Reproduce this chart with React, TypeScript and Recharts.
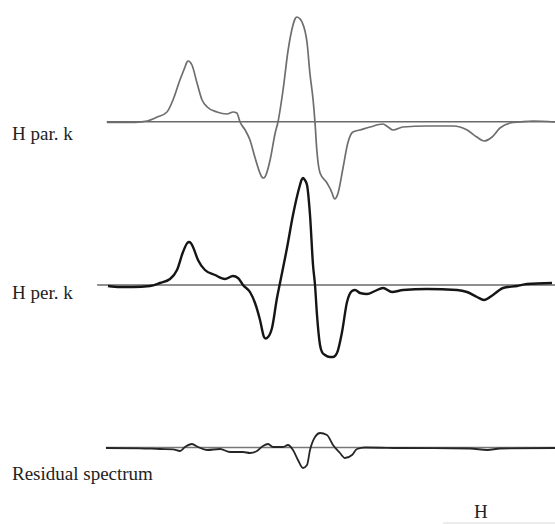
import React from "react";
import { LineChart, Line, XAxis, YAxis, ReferenceLine } from "recharts";

// Magnetic field H (arbitrary units, 0..100)
const parField = [3.1, 6.0, 9.2, 11.8, 14.0, 16.1, 17.4, 18.9, 20.0, 20.32, 20.65, 21.08, 21.5, 22.6, 23.7, 24.8, 26.9, 29.1, 30.4, 31.2, 31.9, 33.0, 34.05, 35.1, 36.2, 36.54, 36.9, 37.19, 37.5, 38.4, 39.5, 40.1, 41.2, 42.3, 43.35, 43.78, 44.2, 44.76, 45.3, 46.4, 47.0, 47.7, 48.1, 48.5, 49.2, 50.7, 51.8, 52.1, 52.4, 52.75, 53.1, 54.2, 55.2, 56.3, 57.8, 60.0, 62.8, 63.9, 65.0, 67.1, 72.3, 78.0, 81.0, 83.1, 84.65, 86.4, 88.1, 90.3, 92.4, 95.2, 100];
// H parallel k spectrum (derivative signal, a.u.)
const parSignal = [-0.06, -0.08, -0.06, 0.07, 0.47, 0.97, 2.17, 4.17, 5.47, 5.87, 6.07, 5.97, 5.67, 3.87, 2.17, 1.47, 0.97, 0.77, 0.97, 0.87, -0.03, -0.83, -1.83, -3.53, -5.13, -5.48, -5.63, -5.58, -5.33, -3.83, -1.13, -0.03, 3.17, 7.17, 9.67, 10.27, 10.47, 10.32, 9.97, 7.87, 4.87, 2.17, -0.03, -2.83, -5.13, -6.13, -7.13, -7.55, -7.73, -7.55, -7.13, -4.53, -2.13, -1.03, -0.83, -0.53, -0.23, -0.53, -0.83, -0.53, -0.43, -0.43, -0.83, -1.53, -1.93, -1.53, -0.63, -0.13, -0.03, 0.07, -0.03];

const perField = [3.35, 5.95, 8.76, 12.43, 14.59, 16.76, 18.27, 19.57, 20.5, 20.86, 21.25, 21.73, 22.81, 24.32, 26.49, 28.65, 30.38, 31.46, 32.54, 34.05, 35.14, 36.22, 37.08, 37.4, 37.73, 38.81, 39.89, 40.54, 42.05, 43.35, 44.86, 45.19, 45.51, 45.84, 46.38, 47.03, 47.68, 48.11, 48.54, 49.19, 49.62, 50.27, 51.35, 52.0, 52.86, 53.95, 55.03, 56.11, 56.76, 57.84, 59.35, 61.08, 62.81, 64.76, 67.14, 72.32, 78.81, 80.97, 83.14, 84.65, 86.59, 88.76, 91.78, 93.95, 99.35];
// H perpendicular k spectrum
const perSignal = [-0.1, -0.2, -0.2, -0.1, 0.2, 0.6, 1.5, 3.3, 4.2, 4.3, 4.2, 3.8, 2.5, 1.5, 1.0, 0.6, 0.9, 0.7, 0, -0.7, -1.8, -3.5, -5.2, -5.35, -5.3, -4.3, -1.3, 0.2, 3.7, 7.0, 10.0, 10.5, 10.7, 10.55, 10.0, 7.0, 2.0, 0, -3.0, -6.0, -6.7, -7.0, -7.2, -7.2, -6.8, -4.7, -1.7, -0.6, -0.5, -0.8, -0.9, -0.6, -0.3, -0.7, -0.5, -0.4, -0.5, -0.7, -1.2, -1.5, -1.0, -0.3, -0.1, 0.1, 0.2];

const resField = [2.92, 10.27, 14.59, 17.41, 18.92, 20.0, 21.51, 22.81, 24.76, 27.57, 29.73, 32.54, 34.05, 35.57, 36.86, 37.95, 39.03, 41.19, 42.27, 43.35, 44.43, 45.51, 46.38, 47.03, 48.11, 49.19, 50.7, 52.0, 53.51, 54.59, 56.11, 57.19, 58.92, 66.49, 81.62, 85.41, 88.11, 100];
// Residual spectrum
const resSignal = [-0.05, -0.08, -0.15, -0.18, -0.35, 0.05, 0.35, 0.05, -0.25, -0.15, -0.45, -0.45, -0.55, -0.35, 0.15, 0.35, 0.05, 0.05, 0.25, -0.25, -1.25, -2.05, -1.75, -0.25, 1.05, 1.45, 1.25, 0.25, -0.55, -1.05, -0.75, -0.15, 0, -0.05, -0.1, -0.25, -0.1, -0.05];

const labels = ["H par. k", "H per. k", "Residual spectrum"];
const axisLabel = "H";

// vertical stacking offsets (a.u.)
const OFF_PAR = 40.23;
const OFF_PER = 23.9;
const OFF_RES = 7.65;

const build = (xs: number[], ys: number[], off: number) =>
  xs.map((x, i) => ({ x, y: ys[i] + off }));

const parData = build(parField, parSignal, OFF_PAR);
const perData = build(perField, perSignal, OFF_PER);
const resData = build(resField, resSignal, OFF_RES);

const textStyle: React.CSSProperties = {
  position: "absolute",
  fontFamily: "'Liberation Serif', 'Times New Roman', serif",
  fontSize: 19,
  lineHeight: "19px",
  color: "#222",
  whiteSpace: "nowrap",
};

export default function App() {
  return (
    <div style={{ position: "absolute", left: 0, top: 0, width: 555, height: 524, background: "#fff" }}>
      <LineChart width={555} height={524} margin={{ top: 0, right: 0, bottom: 0, left: 0 }}>
        <XAxis type="number" dataKey="x" domain={[-20, 100]} hide allowDataOverflow />
        <YAxis type="number" domain={[0, 52.4]} hide allowDataOverflow />
        <ReferenceLine segment={[{ x: 3.1, y: OFF_PAR }, { x: 100, y: OFF_PAR }]} stroke="#6a6a6a" strokeWidth={1.6} />
        <ReferenceLine segment={[{ x: 1.0, y: OFF_PER }, { x: 100, y: OFF_PER }]} stroke="#6a6a6a" strokeWidth={1.6} />
        <ReferenceLine segment={[{ x: 2.9, y: OFF_RES }, { x: 100, y: OFF_RES }]} stroke="#777" strokeWidth={1.4} />
        <ReferenceLine segment={[{ x: 75.8, y: 0.1 }, { x: 100, y: 0.1 }]} stroke="#d8d8d8" strokeWidth={1} />
        <Line data={parData} dataKey="y" type="monotone" stroke="#6e6e6e" strokeWidth={1.7} dot={false} activeDot={false} isAnimationActive={false} />
        <Line data={perData} dataKey="y" type="monotone" stroke="#151515" strokeWidth={2.4} dot={false} activeDot={false} isAnimationActive={false} />
        <Line data={resData} dataKey="y" type="monotone" stroke="#262626" strokeWidth={1.8} dot={false} activeDot={false} isAnimationActive={false} />
      </LineChart>
      <div style={{ ...textStyle, left: 12, top: 124 }}>{labels[0]}</div>
      <div style={{ ...textStyle, left: 12, top: 283 }}>{labels[1]}</div>
      <div style={{ ...textStyle, left: 12, top: 464 }}>{labels[2]}</div>
      <div style={{ ...textStyle, left: 474, top: 502 }}>{axisLabel}</div>
    </div>
  );
}
